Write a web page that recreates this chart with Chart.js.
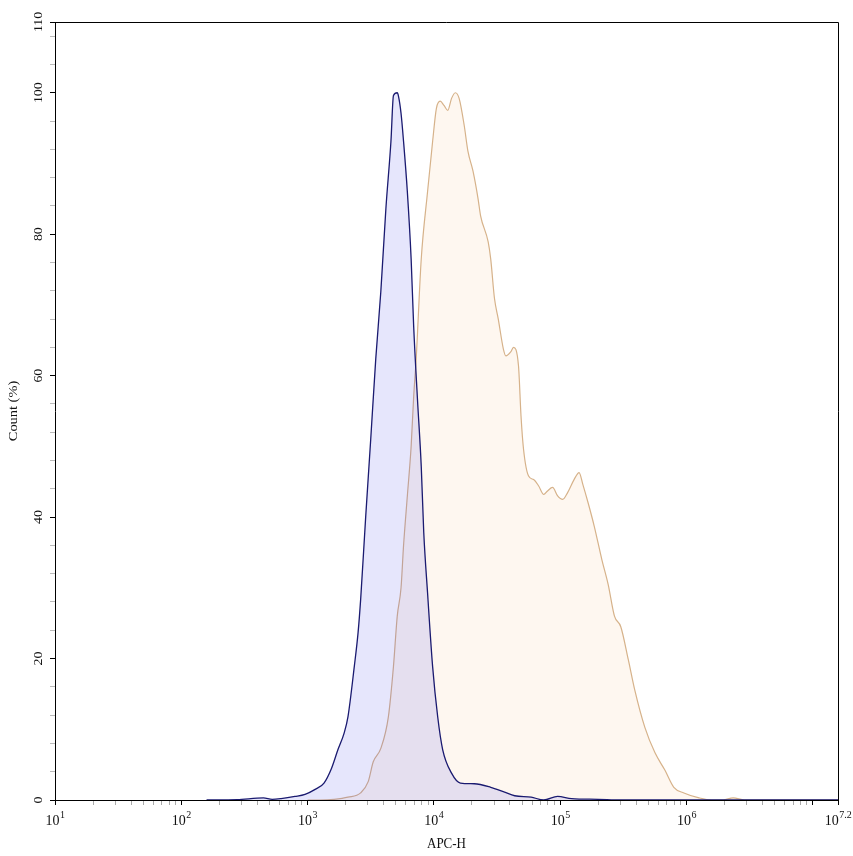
<!DOCTYPE html>
<html><head><meta charset="utf-8">
<script src="https://cdn.jsdelivr.net/npm/chart.js@4.4.1/dist/chart.umd.min.js"></script>
<style>html,body{margin:0;padding:0;background:#fff;}#wrap{width:853px;height:856px;}</style>
</head><body><div id="wrap"><canvas id="c" width="853" height="856"></canvas></div>
<script>
// APC-H intensity given as log10 exponent, Count in %
const blueLogAPC = [2.20,2.44,2.65,2.72,2.79,2.90,2.98,3.06,3.13,3.19,3.24,3.29,3.32,3.37,3.40,3.42,3.46,3.50,3.54,3.58,3.62,3.66,3.68,3.71,3.72,3.74,3.76,3.79,3.82,3.84,3.87,3.90,3.92,3.95,3.99,4.03,4.07,4.14,4.21,4.32,4.45,4.56,4.64,4.77,4.87,4.98,5.09,5.30,5.48,7.2];
const blueCount = [0,0.05,0.3,0.1,0.2,0.5,0.8,1.5,2.4,4.5,7.1,9.5,11.8,18.9,23.7,28.3,40,51,62.4,71.9,83.6,93.1,99.6,100,99.5,97.1,93.1,86,76.5,67,56.7,47.2,37.8,29.3,18.9,11.8,7.1,3.8,2.4,2.3,1.8,1.1,0.6,0.4,0,0.5,0.2,0.1,0,0];
const orangeLogAPC = [3.00,3.10,3.21,3.32,3.42,3.48,3.52,3.58,3.64,3.68,3.71,3.74,3.76,3.79,3.82,3.84,3.86,3.90,3.95,3.99,4.02,4.05,4.08,4.11,4.14,4.17,4.20,4.24,4.27,4.31,4.35,4.37,4.43,4.45,4.48,4.51,4.55,4.57,4.61,4.63,4.67,4.69,4.71,4.75,4.79,4.83,4.87,4.90,4.94,4.98,5.02,5.06,5.11,5.15,5.18,5.22,5.27,5.33,5.38,5.43,5.48,5.54,5.59,5.67,5.75,5.83,5.90,5.98,6.10,6.20,6.29,6.37,6.46,7.2];
const orangeCount = [0,0,0.1,0.4,1,2.6,5.4,7.3,11.8,18.9,26,30,36,43,50,57,62.4,76.5,86,93.1,97.8,98.8,98.2,97.5,99.2,100,99.2,95.4,91.7,88.9,85,82.6,78.9,76.5,70.9,68,63.8,62.8,63.4,64,61.4,54.3,49.6,45.8,45.3,44.4,43.2,43.7,44.2,43,42.5,43.5,45.3,46.3,44.6,42.1,38.7,34,30.5,26,24.5,19.8,15.6,10.3,6.7,4.2,1.8,1,0.3,0,0,0.3,0,0];
const xTickExponents = ['1','2','3','4','5','6','7.2'];
const yTickLabels = [0,20,40,60,80,100,110];
const xTitle = 'APC-H';
const yTitle = 'Count (%)';

const X_MIN = 10, X_MAX = Math.pow(10, 7.2);
const toPts = (lx, c) => lx.map((e, i) => ({x: Math.pow(10, e), y: c[i]}));

// tick positions for axes
const xTickValues = [];
for (let d = 1; d <= 7; d++) for (let m = 1; m <= 9; m++) { const v = m * Math.pow(10, d); if (v <= X_MAX) xTickValues.push(v); }
xTickValues.push(X_MAX);
const yTickValues = [];
for (let v = 0; v <= 108; v += 4) yTickValues.push(v);
yTickValues.push(110);

const isMajorX = v => { const l = Math.log10(v); return Math.abs(l - Math.round(l)) < 1e-6 || Math.abs(v - X_MAX) < 1; };
const isMajorY = v => v % 20 === 0 || v === 110;

const SERIF = '"Liberation Serif","Times New Roman",serif';

const textPlugin = {
  id: 'texts',
  afterDraw(chart) {
    const {ctx, chartArea: a, scales: {x, y}} = chart;
    ctx.save();
    // frame top/right
    ctx.strokeStyle = '#000'; ctx.lineWidth = 1;
    ctx.beginPath();
    ctx.moveTo(a.left, Math.round(a.top) + 0.5);
    ctx.lineTo(Math.round(a.right) + 0.5, Math.round(a.top) + 0.5);
    ctx.lineTo(Math.round(a.right) + 0.5, a.bottom);
    ctx.stroke();
    ctx.fillStyle = '#111';
    // x tick labels with superscripts
    xTickExponents.forEach(e => {
      const px = x.getPixelForValue(Math.pow(10, parseFloat(e)));
      ctx.font = '14px ' + SERIF; const w1 = ctx.measureText('10').width;
      ctx.font = '10px ' + SERIF; const w2 = ctx.measureText(e).width;
      const left = px - (w1 + w2) / 2;
      ctx.textAlign = 'left'; ctx.textBaseline = 'alphabetic';
      ctx.font = '14px ' + SERIF; ctx.fillText('10', left, 825);
      ctx.font = '10px ' + SERIF; ctx.fillText(e, left + w1 + 0.5, 818);
    });
    // y tick labels rotated
    yTickLabels.forEach(v => {
      const py = y.getPixelForValue(v);
      ctx.save();
      ctx.translate(39, py);
      ctx.scale(1, 1.15);
      ctx.rotate(-Math.PI / 2);
      ctx.font = '12px ' + SERIF; ctx.textAlign = 'center'; ctx.textBaseline = 'middle';
      ctx.fillText(String(v), 0, 0);
      ctx.restore();
    });
    // titles
    ctx.save();
    ctx.translate((a.left + a.right) / 2, 844);
    ctx.scale(1, 1.15);
    ctx.font = '13px ' + SERIF; ctx.textAlign = 'center'; ctx.textBaseline = 'middle';
    ctx.fillText(xTitle, 0, 0);
    ctx.restore();
    ctx.save();
    ctx.translate(14, (a.top + a.bottom) / 2);
    ctx.scale(1, 1.2);
    ctx.rotate(-Math.PI / 2);
    ctx.font = '12px ' + SERIF; ctx.textAlign = 'center'; ctx.textBaseline = 'middle';
    ctx.fillText(yTitle, 0, 0);
    ctx.restore();
    ctx.restore();
  }
};

new Chart(document.getElementById('c'), {
  type: 'line',
  data: {
    datasets: [
      {
        label: 'Control',
        data: toPts(blueLogAPC, blueCount),
        borderColor: '#1a1a70',
        backgroundColor: 'rgba(60,60,230,0.13)',
        borderWidth: 1.3,
        fill: 'origin',
        pointRadius: 0,
        cubicInterpolationMode: 'monotone'
      },
      {
        label: 'Sample',
        data: toPts(orangeLogAPC, orangeCount),
        borderColor: 'rgb(214,178,138)',
        backgroundColor: 'rgba(240,150,60,0.08)',
        borderWidth: 1.2,
        fill: 'origin',
        pointRadius: 0,
        cubicInterpolationMode: 'monotone'
      }
    ]
  },
  options: {
    responsive: false,
    animation: false,
    devicePixelRatio: 1,
    layout: {padding: {left: 50, right: 15, top: 22, bottom: 51}},
    plugins: {legend: {display: false}, tooltip: {enabled: false}},
    scales: {
      x: {
        type: 'logarithmic', min: X_MIN, max: X_MAX,
        afterBuildTicks: s => { s.ticks = xTickValues.map(v => ({value: v})); },
        ticks: {display: false},
        grid: {display: true, drawOnChartArea: false, drawTicks: true, tickLength: 5,
               tickColor: c => isMajorX(c.tick.value) ? '#000' : '#aaa'},
        border: {display: true, color: '#000', width: 1}
      },
      y: {
        type: 'linear', min: 0, max: 110,
        afterBuildTicks: s => { s.ticks = yTickValues.map(v => ({value: v})); },
        ticks: {display: false},
        grid: {display: true, drawOnChartArea: false, drawTicks: true, tickLength: 5,
               tickColor: c => isMajorY(c.tick.value) ? '#000' : '#bbb'},
        border: {display: true, color: '#000', width: 1}
      }
    }
  },
  plugins: [textPlugin]
});
</script>
</body></html>
